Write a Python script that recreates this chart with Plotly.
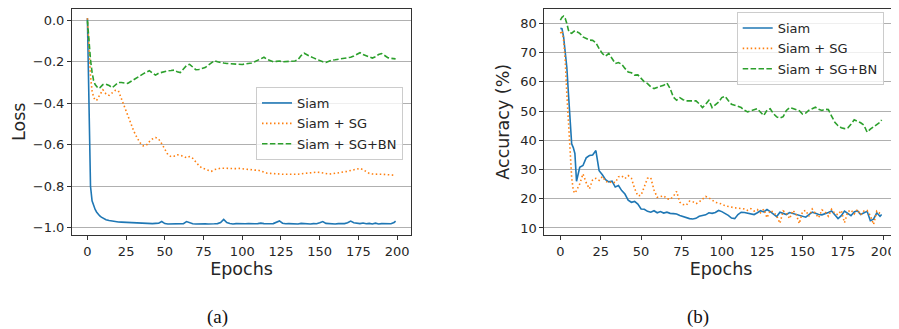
import plotly.graph_objects as go

# ---------------- data ----------------
EPOCHS = list(range(0, 11)) + list(range(12, 199, 2)) + [199]

LOSS_SIAM = [
    0.01, -0.52, -0.80, -0.87, -0.895, -0.912, -0.925, -0.935, -0.943, -0.949, -0.954,
    -0.961, -0.965, -0.968, -0.970, -0.972, -0.973, -0.974, -0.975, -0.976, -0.977,
    -0.978, -0.976, -0.980, -0.980, -0.982, -0.980, -0.979, -0.978, -0.970, -0.980,
    -0.982, -0.981, -0.982, -0.980, -0.981, -0.980, -0.970, -0.975, -0.981, -0.982,
    -0.981, -0.980, -0.981, -0.982, -0.980, -0.981, -0.980, -0.975, -0.960, -0.975,
    -0.980, -0.982, -0.980, -0.981, -0.979, -0.981, -0.980, -0.982, -0.981, -0.980,
    -0.978, -0.980, -0.982, -0.981, -0.980, -0.975, -0.967, -0.978, -0.981, -0.980,
    -0.981, -0.980, -0.982, -0.979, -0.981, -0.980, -0.982, -0.980, -0.981, -0.976,
    -0.970, -0.979, -0.981, -0.980, -0.982, -0.980, -0.981, -0.980, -0.976, -0.968,
    -0.976, -0.979, -0.980, -0.977, -0.981, -0.979, -0.982, -0.978, -0.982, -0.980,
    -0.981, -0.982, -0.981, -0.975,
    -0.968,
]
LOSS_SG = [
    0.01, -0.15, -0.27, -0.34, -0.37, -0.385, -0.385, -0.372, -0.36, -0.345, -0.335,
    -0.355, -0.362, -0.35, -0.338, -0.34, -0.38, -0.425, -0.465, -0.505, -0.535,
    -0.565, -0.59, -0.605, -0.603, -0.585, -0.572, -0.565, -0.572, -0.595, -0.625,
    -0.648, -0.657, -0.655, -0.648, -0.65, -0.655, -0.663, -0.657, -0.665, -0.685,
    -0.70, -0.712, -0.718, -0.723, -0.728, -0.72, -0.715, -0.713, -0.713, -0.714,
    -0.713, -0.714, -0.715, -0.714, -0.716, -0.717, -0.718, -0.72, -0.722, -0.722,
    -0.728, -0.733, -0.737, -0.738, -0.738, -0.74, -0.741, -0.742, -0.742, -0.742,
    -0.743, -0.744, -0.742, -0.74, -0.738, -0.736, -0.735, -0.733, -0.732, -0.733,
    -0.736, -0.739, -0.741, -0.74, -0.738, -0.737, -0.735, -0.733, -0.728, -0.724,
    -0.72, -0.716, -0.714, -0.72, -0.73, -0.738, -0.741, -0.74, -0.742, -0.742,
    -0.743, -0.744, -0.745, -0.746,
    -0.747,
]
LOSS_BN = [
    0.0, -0.11, -0.19, -0.25, -0.29, -0.31, -0.322, -0.328, -0.325, -0.318, -0.31,
    -0.308, -0.314, -0.325, -0.31, -0.30, -0.30, -0.302, -0.304, -0.295, -0.285,
    -0.275, -0.264, -0.258, -0.25, -0.243, -0.255, -0.264, -0.255, -0.25, -0.245,
    -0.243, -0.242, -0.24, -0.248, -0.252, -0.235, -0.218, -0.212, -0.225, -0.238,
    -0.237, -0.232, -0.228, -0.216, -0.205, -0.195, -0.20, -0.204, -0.206, -0.208,
    -0.209, -0.21, -0.211, -0.212, -0.213, -0.21, -0.208, -0.206, -0.2, -0.193,
    -0.183, -0.178, -0.188, -0.195, -0.2, -0.198, -0.196, -0.2, -0.199, -0.197,
    -0.198, -0.196, -0.19, -0.17, -0.159, -0.168, -0.175, -0.181, -0.188, -0.195,
    -0.2, -0.203, -0.197, -0.192, -0.19, -0.188, -0.185, -0.184, -0.181, -0.178,
    -0.172, -0.162, -0.156, -0.165, -0.172, -0.178, -0.182, -0.176, -0.165, -0.16,
    -0.17, -0.18, -0.183, -0.185,
    -0.186,
]

ACC_SIAM = [
    78.3, 78.2, 75.4, 70.3, 65.0, 56.0, 46.8, 38.8, 37.5, 35.5, 26.0,
    30.8, 31.4, 34.0, 34.8, 35.0, 36.5, 29.6, 28.2, 26.5, 25.8,
    26.0, 24.0, 24.5, 22.8, 21.6, 19.5, 18.8, 19.1, 18.2, 16.5,
    16.4, 15.7, 15.4, 15.9, 15.2, 15.6, 15.1, 15.4, 15.0, 14.9,
    14.8, 14.3, 13.9, 13.6, 13.2, 13.1, 13.3, 14.0, 14.3, 14.5,
    15.2, 15.0, 15.3, 16.0, 15.6, 15.0, 14.3, 13.4, 13.2, 14.6,
    15.4, 15.3, 15.0, 14.8, 14.6, 15.2, 15.9, 15.5, 16.3, 15.6,
    14.8, 13.9, 15.4, 14.9, 14.6, 15.3, 15.0, 14.6, 14.5, 14.0,
    13.7, 14.6, 15.4, 15.0, 14.6, 14.5, 14.8, 15.3, 15.8, 14.6,
    13.2, 14.2, 15.8, 15.0, 14.2, 15.5, 15.9, 14.6, 15.3, 15.7,
    12.5, 13.0, 15.2, 14.0,
    14.6,
]
ACC_SG = [
    76.6, 77.5, 74.3, 67.4, 56.0, 46.8, 35.4, 27.4, 22.8, 21.9, 22.8,
    25.1, 28.5, 25.5, 23.4, 26.5, 27.0, 26.3, 27.6, 26.0, 25.5,
    25.8, 25.5, 27.5, 27.8, 26.9, 27.9, 27.0, 23.5, 21.0, 21.2,
    24.5, 27.0, 27.2, 23.0, 20.5, 20.8, 21.0, 20.0, 19.8, 20.8,
    22.5, 18.8, 18.0, 17.8, 19.2, 19.0, 18.3, 18.9, 19.7, 20.8,
    20.3, 19.4, 18.8, 18.5, 18.2, 17.6, 17.3, 17.0, 16.9, 16.8,
    16.6, 16.5, 16.0, 16.6, 15.8, 16.3, 15.2, 16.4, 13.5, 16.0,
    15.4, 14.2, 11.6, 15.8, 15.2, 13.2, 16.0, 14.8, 11.5, 15.6,
    16.0, 14.0, 16.5, 15.0, 13.5, 16.2, 15.5, 14.0, 16.4, 15.0,
    14.5, 16.0, 11.8, 15.5, 16.2, 14.8, 16.3, 14.5, 15.8, 16.0,
    14.2, 11.2, 15.8, 15.0,
    14.9,
]
ACC_BN = [
    81.1, 82.1, 82.5, 81.7, 80.0, 77.7, 76.8, 76.6, 77.1, 77.5, 77.2,
    76.6, 75.4, 74.9, 74.3, 74.2, 73.4, 71.4, 69.7, 68.8, 69.7,
    68.0, 66.3, 66.6, 66.0, 64.6, 63.4, 63.1, 62.3, 62.4, 61.1,
    60.0, 59.4, 58.3, 57.7, 58.2, 58.5, 58.8, 59.6, 57.7, 54.8,
    53.7, 54.6, 53.9, 53.5, 53.5, 53.6, 53.5, 52.5, 51.2, 52.3,
    53.7, 51.2, 52.0, 53.1, 54.6, 55.1, 53.6, 52.3, 52.0, 51.7,
    51.2, 50.3, 49.7, 50.1, 50.5, 50.8, 49.6, 48.5, 50.3, 50.8,
    49.1, 48.0, 47.6, 48.1, 50.2, 51.2, 50.9, 50.5, 50.1, 49.0,
    49.3, 50.3, 50.9, 51.3, 50.6, 50.2, 50.6, 50.5, 48.3, 46.2,
    45.0, 44.3, 44.0, 44.2, 45.5, 47.0, 46.5, 46.0, 45.2, 42.8,
    43.8, 44.6, 45.1, 46.2,
    47.0,
]

SERIES_NAMES = ["Siam", "Siam + SG", "Siam + SG+BN"]
X_TICKS = [0, 25, 50, 75, 100, 125, 150, 175, 200]
LOSS_TICKS = [-1.0, -0.8, -0.6, -0.4, -0.2, 0.0]
LOSS_TICK_TEXT = ["\u22121.0", "\u22120.8", "\u22120.6", "\u22120.4", "\u22120.2", "0.0"]
ACC_TICKS = [10, 20, 30, 40, 50, 60, 70, 80]

# ---------------- styling ----------------
COLORS = ["#1f77b4", "#ff7f0e", "#2ca02c"]
DASHES = ["solid", "1.5px,2.5px", "5.5px,2.4px"]
# the page body has an 8px margin, so the figure is drawn 8px in from the window edge
OFF = 8
W, H = 899 - OFF, 329 - OFF
FONT = "DejaVu Sans"
TXT = "#262626"
SPINE = "#333333"

fig = go.Figure()

for i, ys in enumerate([LOSS_SIAM, LOSS_SG, LOSS_BN]):
    fig.add_trace(go.Scatter(
        x=EPOCHS, y=ys, mode="lines", name=SERIES_NAMES[i],
        line=dict(color=COLORS[i], width=1.6, dash=DASHES[i]),
        xaxis="x", yaxis="y", legend="legend", legendgroup="a%d" % i,
    ))
for i, ys in enumerate([ACC_SIAM, ACC_SG, ACC_BN]):
    fig.add_trace(go.Scatter(
        x=EPOCHS, y=ys, mode="lines", name=SERIES_NAMES[i],
        line=dict(color=COLORS[i], width=1.6, dash=DASHES[i]),
        xaxis="x2", yaxis="y2", legend="legend2", legendgroup="b%d" % i,
    ))

def px_x(p):
    return min(1.0, max(0.0, (p - OFF) / W))

def px_y(p):
    return min(1.0, max(0.0, 1 - (p - OFF) / H))

TOP = 8.5  # frame top in window pixels (cannot go above the body margin)

common_x = dict(
    range=[-9.95, 208.95], tickvals=X_TICKS, showgrid=False, zeroline=False,
    showline=True, mirror=True, linecolor=SPINE, linewidth=1,
    ticks="outside", ticklen=4, tickwidth=1, tickcolor=SPINE,
    tickfont=dict(family=FONT, size=13, color=TXT),
    title=dict(text="Epochs", font=dict(family=FONT, size=17.5, color=TXT), standoff=4),
)
common_y = dict(
    showgrid=True, gridcolor="#b0b0b0", gridwidth=1, zeroline=False,
    showline=True, mirror=True, linecolor=SPINE, linewidth=1,
    ticks="outside", ticklen=4, tickwidth=1, tickcolor=SPINE,
    tickfont=dict(family=FONT, size=13, color=TXT),
)
legend_common = dict(
    xanchor="left", yanchor="top",
    bgcolor="rgba(255,255,255,0.8)", bordercolor="#cccccc", borderwidth=1,
    font=dict(family=FONT, size=13, color=TXT), tracegroupgap=0.5,
    traceorder="grouped",
)
caption_font = dict(family="Liberation Serif", size=19, color="#111")

fig.update_layout(
    width=W, height=H,
    margin=dict(l=0, r=0, t=0, b=0, autoexpand=False),
    paper_bgcolor="white", plot_bgcolor="white",
    xaxis=dict(domain=[px_x(72), px_x(411)], anchor="y", **common_x),
    yaxis=dict(domain=[px_y(235), px_y(TOP)], anchor="x", range=[-1.035, 0.057],
               tickvals=LOSS_TICKS, ticktext=LOSS_TICK_TEXT,
               title=dict(text="Loss", font=dict(family=FONT, size=17.5, color=TXT), standoff=2.5),
               **common_y),
    xaxis2=dict(domain=[px_x(544.3), px_x(897.7)], anchor="y2", **common_x),
    yaxis2=dict(domain=[px_y(235), px_y(TOP)], anchor="x2", range=[7.6, 85.1],
                tickvals=ACC_TICKS,
                title=dict(text="Accuracy (%)", font=dict(family=FONT, size=17.5, color=TXT), standoff=6),
                **common_y),
    legend=dict(x=px_x(256), y=px_y(87), **legend_common),
    legend2=dict(x=px_x(736.7), y=px_y(12), **legend_common),
    annotations=[
        dict(text="(a)", x=px_x(217), y=px_y(316.5), xref="paper", yref="paper",
             showarrow=False, xanchor="center", yanchor="middle", borderpad=0,
             font=caption_font),
        dict(text="(b)", x=px_x(698), y=px_y(316.5), xref="paper", yref="paper",
             showarrow=False, xanchor="center", yanchor="middle", borderpad=0,
             font=caption_font),
    ],
)

fig.write_html("out.html")
